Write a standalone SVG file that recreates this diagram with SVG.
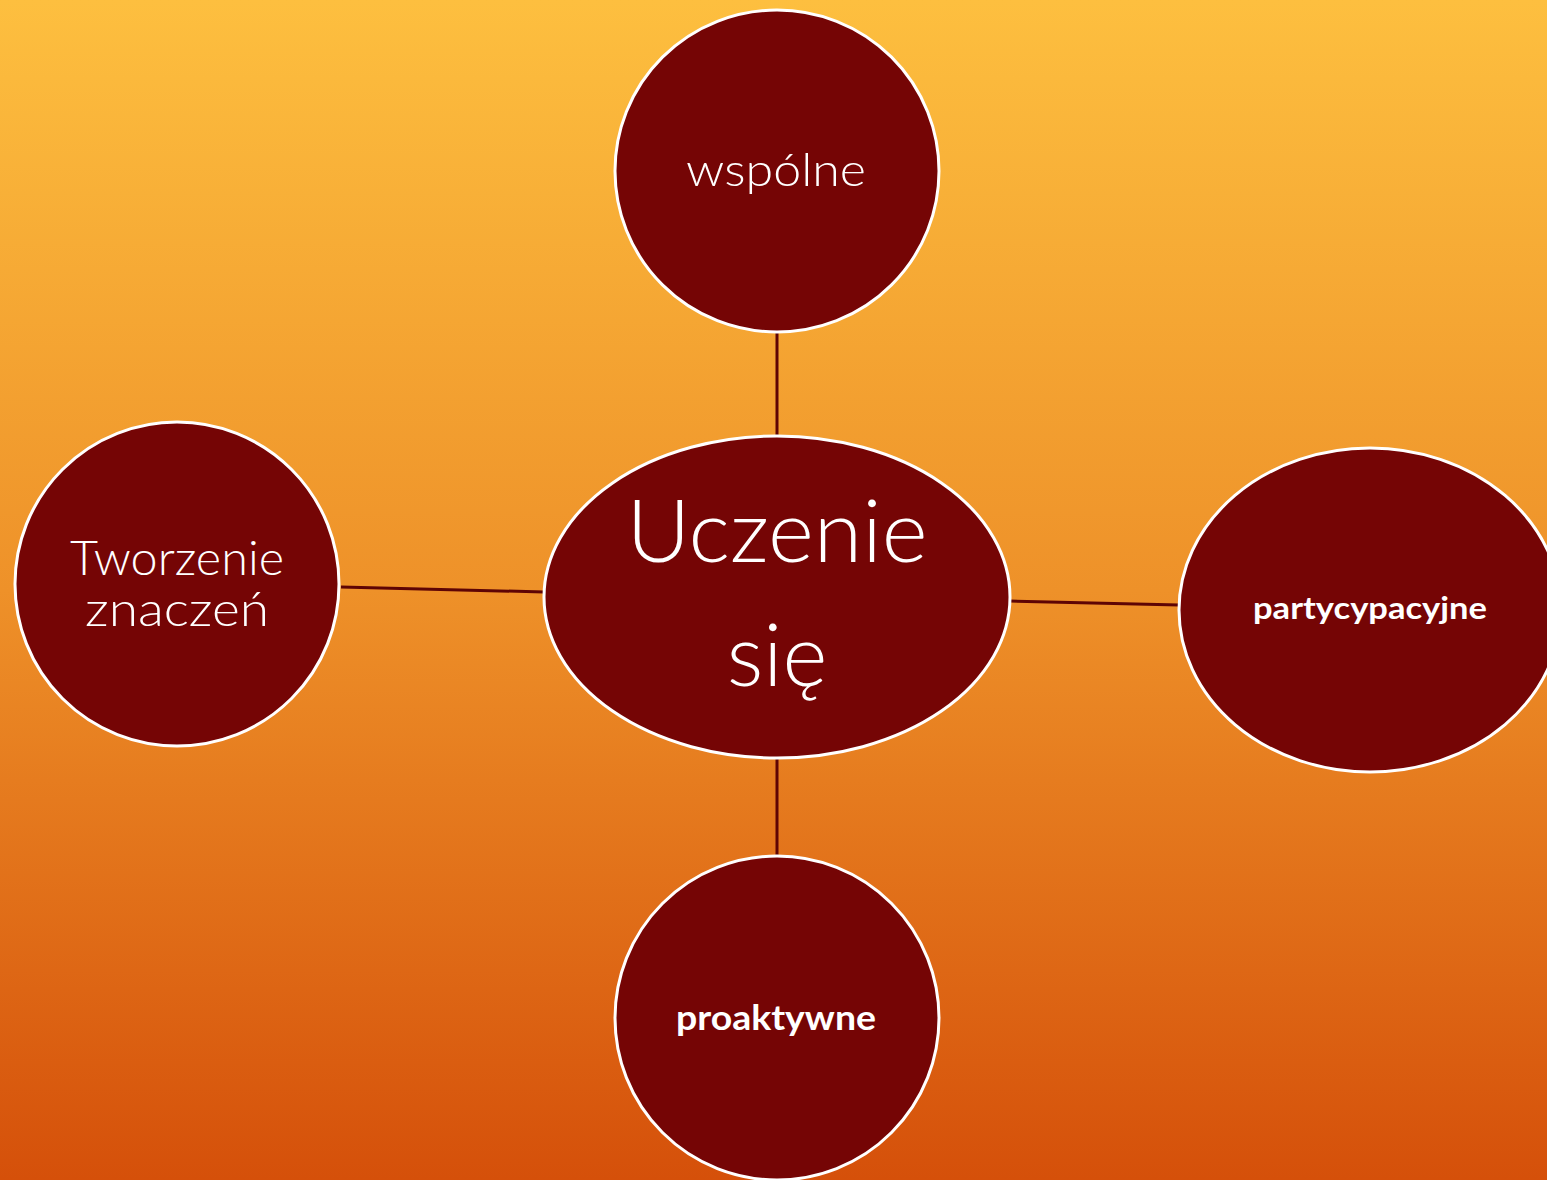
<svg xmlns="http://www.w3.org/2000/svg" width="1547" height="1180" viewBox="0 0 1547 1180">
<defs>
<linearGradient id="bg" x1="0" y1="0" x2="0" y2="1">
<stop offset="0" stop-color="#fdbf3f"/>
<stop offset="0.5" stop-color="#ee9129"/>
<stop offset="1" stop-color="#d5500a"/>
</linearGradient>
<style>
.node{fill:#750505;stroke:#ffffff;stroke-width:3}
.conn{stroke:#5e0404;stroke-width:3;fill:none}
.t{fill:#ffffff;font-family:Lato,"Open Sans","Liberation Sans",sans-serif;text-anchor:middle}
.light{font-weight:300}
.bold{font-weight:700}
</style>
</defs>
<rect x="0" y="0" width="1547" height="1180" fill="url(#bg)"/>
<g id="connectors">
<line class="conn" x1="777" y1="333" x2="777" y2="436"/>
<line class="conn" x1="777" y1="758" x2="777" y2="856"/>
<line class="conn" x1="341" y1="587" x2="544" y2="592"/>
<line class="conn" x1="1010" y1="601" x2="1179" y2="605"/>
</g>
<g id="node-wspolne">
<ellipse class="node" cx="777" cy="171" rx="162" ry="161"/>
<text class="t light" x="776" y="186" font-size="46" textLength="180" lengthAdjust="spacingAndGlyphs">wspólne</text>
</g>
<g id="node-uczenie">
<ellipse class="node" cx="777" cy="597" rx="233" ry="161"/>
<text class="t light" x="777" y="562" font-size="86" textLength="301" lengthAdjust="spacingAndGlyphs">Uczenie</text>
<text class="t light" x="777" y="686" font-size="86">się</text>
</g>
<g id="node-tworzenie">
<ellipse class="node" cx="177" cy="584" rx="162" ry="162"/>
<text class="t light" x="177" y="575" font-size="47" textLength="214" lengthAdjust="spacingAndGlyphs">Tworzenie</text>
<text class="t light" x="177" y="626" font-size="47" textLength="184" lengthAdjust="spacingAndGlyphs">znaczeń</text>
</g>
<g id="node-partycypacyjne">
<ellipse class="node" cx="1370" cy="610" rx="191" ry="162"/>
<text class="t bold" x="1370" y="619" font-size="30" textLength="234" lengthAdjust="spacingAndGlyphs">partycypacyjne</text>
</g>
<g id="node-proaktywne">
<ellipse class="node" cx="777" cy="1018" rx="162" ry="162"/>
<text class="t bold" x="776" y="1030" font-size="35" textLength="200" lengthAdjust="spacingAndGlyphs">proaktywne</text>
</g>
</svg>
